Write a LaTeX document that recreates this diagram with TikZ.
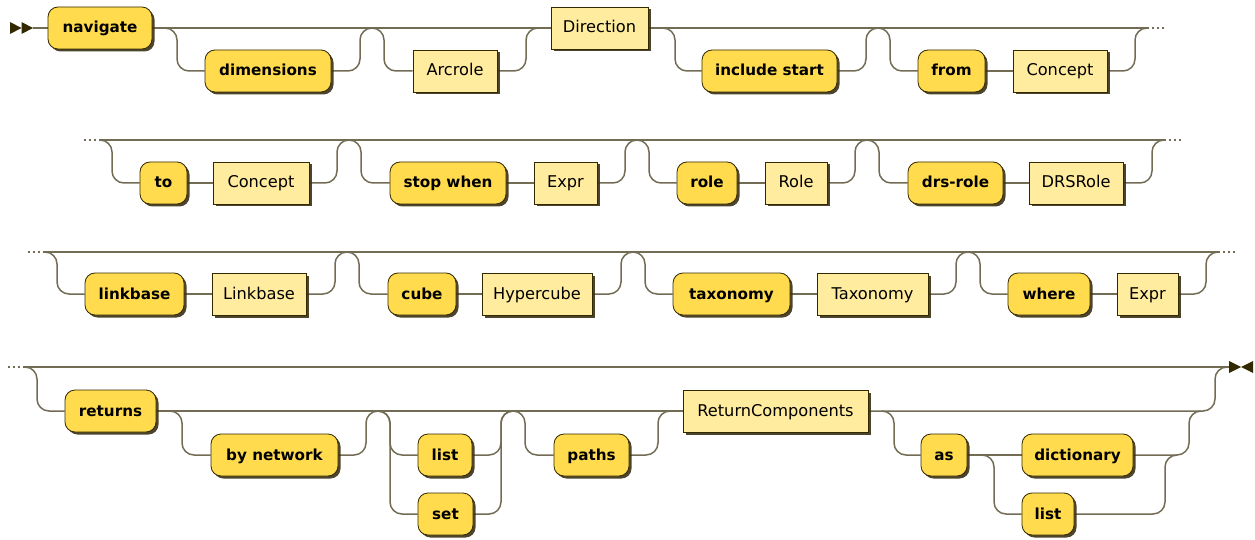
\documentclass[tikz,border=0pt]{standalone}
\usepackage{fontspec}
\setmainfont{DejaVu Sans}
\usetikzlibrary{calc,shadows,backgrounds}
\definecolor{termfill}{HTML}{FFDB4D}
\definecolor{ntfill}{HTML}{FFEC9E}
\definecolor{edgec}{HTML}{332900}
\definecolor{wirec}{HTML}{736C55}
\definecolor{shadec}{HTML}{3A3015}
\tikzset{
  box/.style={draw=edgec, line width=0.8pt, minimum height=42, inner sep=0pt, text=black,
    text height=12pt, text depth=2pt,
    drop shadow={shadow xshift=2.5pt, shadow yshift=-2.5pt, fill=shadec, opacity=0.9}},
  term/.style={box, fill=termfill, rounded corners=10pt, font=\bfseries\fontsize{15.2}{18}\selectfont},
  nonterm/.style={box, fill=ntfill, font=\fontsize{16.2}{19}\selectfont},
  wireline/.style={draw=wirec, line width=1.5pt, rounded corners=12pt},
  dotline/.style={draw=wirec, line width=1.5pt, dash pattern=on 1.5pt off 3.5pt},
  markfill/.style={fill=edgec}
}
\begin{document}
\begin{tikzpicture}[x=1pt,y=-1pt]
\useasboundingbox (0,0) rectangle (1255,540);
% ---------- Row 1 ----------
\node[term, minimum width=104] (nav) at (100,28) {navigate};
\node[term, minimum width=126] (dim) at (268,71) {dimensions};
\node[nonterm, minimum width=84] (arc) at (455,71) {Arcrole};
\node[nonterm, minimum width=97] (dir) at (599.5,28) {Direction};
\node[term, minimum width=135] (inc) at (769.5,71) {include start};
\node[term, minimum width=67] (from) at (951.5,71) {from};
\node[nonterm, minimum width=94] (conA) at (1060,71) {Concept};
% ---------- Row 2 ----------
\node[term, minimum width=47] (to) at (163.5,183) {to};
\node[nonterm, minimum width=96] (conB) at (261,183) {Concept};
\node[term, minimum width=116] (stop) at (448,183) {stop when};
\node[nonterm, minimum width=63] (exprA) at (565.5,183) {Expr};
\node[term, minimum width=60] (role) at (707,183) {role};
\node[nonterm, minimum width=62] (roleN) at (796,183) {Role};
\node[term, minimum width=95] (drs) at (955.5,183) {drs-role};
\node[nonterm, minimum width=94] (drsN) at (1076,183) {DRSRole};
% ---------- Row 3 ----------
\node[term, minimum width=99] (lb) at (134.5,294) {linkbase};
\node[nonterm, minimum width=94] (lbN) at (259,294) {Linkbase};
\node[term, minimum width=68] (cube) at (422,294) {cube};
\node[nonterm, minimum width=110] (hyp) at (537,294) {Hypercube};
\node[term, minimum width=117] (tax) at (731.5,294) {taxonomy};
\node[nonterm, minimum width=111] (taxN) at (872.5,294) {Taxonomy};
\node[term, minimum width=82] (where) at (1049,294) {where};
\node[nonterm, minimum width=61] (exprB) at (1147.5,294) {Expr};
% ---------- Row 4 ----------
\node[term, minimum width=91] (ret) at (110.5,411) {returns};
\node[term, minimum width=127] (bynet) at (274.5,455) {by network};
\node[term, minimum width=54] (listA) at (445,455) {list};
\node[term, minimum width=55] (set) at (445.5,514) {set};
\node[term, minimum width=75] (paths) at (591.5,455) {paths};
\node[nonterm, minimum width=185] (rc) at (775.5,411) {ReturnComponents};
\node[term, minimum width=46] (as) at (944,455) {as};
\node[term, minimum width=111] (dict) at (1077.5,455) {dictionary};
\node[term, minimum width=52] (listB) at (1048,514) {list};
% ---------- junctions ----------
\coordinate (s) at (33,28);
\coordinate (a0) at (165,28);
\coordinate (a1) at (372,28);
\coordinate (a2) at (538,28);
\coordinate (a3) at (663,28);
\coordinate (a4) at (878,28);
\coordinate (a5) at (1147,28);
\coordinate (a6) at (1165,28);
\coordinate (bL) at (84,140);
\coordinate (b0) at (100,140);
\coordinate (b1) at (349,140);
\coordinate (b2) at (637,140);
\coordinate (b3) at (867,140);
\coordinate (b4) at (1164,140);
\coordinate (bR) at (1181,140);
\coordinate (cL) at (28,252);
\coordinate (c0) at (45,252);
\coordinate (c1) at (347,252);
\coordinate (c2) at (633,252);
\coordinate (c3) at (968,252);
\coordinate (c4) at (1218,252);
\coordinate (cR) at (1236,252);
\coordinate (dL) at (8,367);
\coordinate (d0) at (25,367);
\coordinate (dE) at (1227,367);
\coordinate (da) at (170,411);
\coordinate (db) at (378,411);
\coordinate (dc) at (513,411);
\coordinate (dd) at (670,411);
\coordinate (de) at (882,411);
\coordinate (dh) at (1201,411);
\coordinate (df) at (982,455);
\coordinate (dg) at (1177,455);
% ---------- markers ----------
\fill[markfill] (10,22) -- (21.5,28) -- (10,34) -- cycle;
\fill[markfill] (21.5,22) -- (33,28) -- (21.5,34) -- cycle;
\fill[markfill] (1229,361) -- (1241,367) -- (1229,373) -- cycle;
\fill[markfill] (1253,361) -- (1241,367) -- (1253,373) -- cycle;
\begin{scope}[on background layer]
% Row 1
\draw[wireline] (s) -- (nav.west);
\draw[wireline] (nav.east) -- (dir.west);
\draw[wireline] (dir.east) -- (a5);
\draw[dotline] (a5) -- (a6);
\draw[wireline] (a0) -- ++(12,0) |- (dim.west);
\draw[wireline] (dim.east) -| ($(a1)+(-12,0)$) -- (a1);
\draw[wireline] (a1) -- ++(12,0) |- (arc.west);
\draw[wireline] (arc.east) -| ($(a2)+(-12,0)$) -- (a2);
\draw[wireline] (a3) -- ++(12,0) |- (inc.west);
\draw[wireline] (inc.east) -| ($(a4)+(-12,0)$) -- (a4);
\draw[wireline] (a4) -- ++(12,0) |- (from.west);
\draw[wireline] (from.east) -- (conA.west);
\draw[wireline] (conA.east) -| ($(a5)+(-12,0)$) -- (a5);
% Row 2
\draw[dotline] (bL) -- (b0);
\draw[wireline] (b0) -- (b4);
\draw[dotline] (b4) -- (bR);
\draw[wireline] (b0) -- ++(12,0) |- (to.west);
\draw[wireline] (to.east) -- (conB.west);
\draw[wireline] (conB.east) -| ($(b1)+(-12,0)$) -- (b1);
\draw[wireline] (b1) -- ++(12,0) |- (stop.west);
\draw[wireline] (stop.east) -- (exprA.west);
\draw[wireline] (exprA.east) -| ($(b2)+(-12,0)$) -- (b2);
\draw[wireline] (b2) -- ++(12,0) |- (role.west);
\draw[wireline] (role.east) -- (roleN.west);
\draw[wireline] (roleN.east) -| ($(b3)+(-12,0)$) -- (b3);
\draw[wireline] (b3) -- ++(12,0) |- (drs.west);
\draw[wireline] (drs.east) -- (drsN.west);
\draw[wireline] (drsN.east) -| ($(b4)+(-12,0)$) -- (b4);
% Row 3
\draw[dotline] (cL) -- (c0);
\draw[wireline] (c0) -- (c4);
\draw[dotline] (c4) -- (cR);
\draw[wireline] (c0) -- ++(12,0) |- (lb.west);
\draw[wireline] (lb.east) -- (lbN.west);
\draw[wireline] (lbN.east) -| ($(c1)+(-12,0)$) -- (c1);
\draw[wireline] (c1) -- ++(12,0) |- (cube.west);
\draw[wireline] (cube.east) -- (hyp.west);
\draw[wireline] (hyp.east) -| ($(c2)+(-12,0)$) -- (c2);
\draw[wireline] (c2) -- ++(12,0) |- (tax.west);
\draw[wireline] (tax.east) -- (taxN.west);
\draw[wireline] (taxN.east) -| ($(c3)+(-12,0)$) -- (c3);
\draw[wireline] (c3) -- ++(12,0) |- (where.west);
\draw[wireline] (where.east) -- (exprB.west);
\draw[wireline] (exprB.east) -| ($(c4)+(-12,0)$) -- (c4);
% Row 4
\draw[dotline] (dL) -- (d0);
\draw[wireline] (d0) -- (dE);
\draw[wireline] (dE) -- (1229,367);
\draw[wireline] (d0) -- ++(12,0) |- (ret.west);
\draw[wireline] (ret.east) -- (rc.west);
\draw[wireline] (da) -- ++(12,0) |- (bynet.west);
\draw[wireline] (bynet.east) -| ($(db)+(-12,0)$) -- (db);
\draw[wireline] (db) -- ++(12,0) |- (listA.west);
\draw[wireline] (db) -- ++(12,0) |- (set.west);
\draw[wireline] (listA.east) -| ($(dc)+(-12,0)$) -- (dc);
\draw[wireline] (set.east) -| ($(dc)+(-12,0)$) -- (dc);
\draw[wireline] (dc) -- ++(12,0) |- (paths.west);
\draw[wireline] (paths.east) -| ($(dd)+(-12,0)$) -- (dd);
\draw[wireline] (rc.east) -| ($(dE)+(-12,0)$) -- (dE);
\draw[wireline] (de) -- ++(12,0) |- (as.west);
\draw[wireline] (as.east) -- (dict.west);
\draw[wireline] (df) -- ++(12,0) |- (listB.west);
\draw[wireline] (dict.east) -| ($(dh)+(-12,0)$) -- (dh);
\draw[wireline] (listB.east) -| ($(dg)+(-12,0)$) -- (dg);
\end{scope}
\end{tikzpicture}
\end{document}
